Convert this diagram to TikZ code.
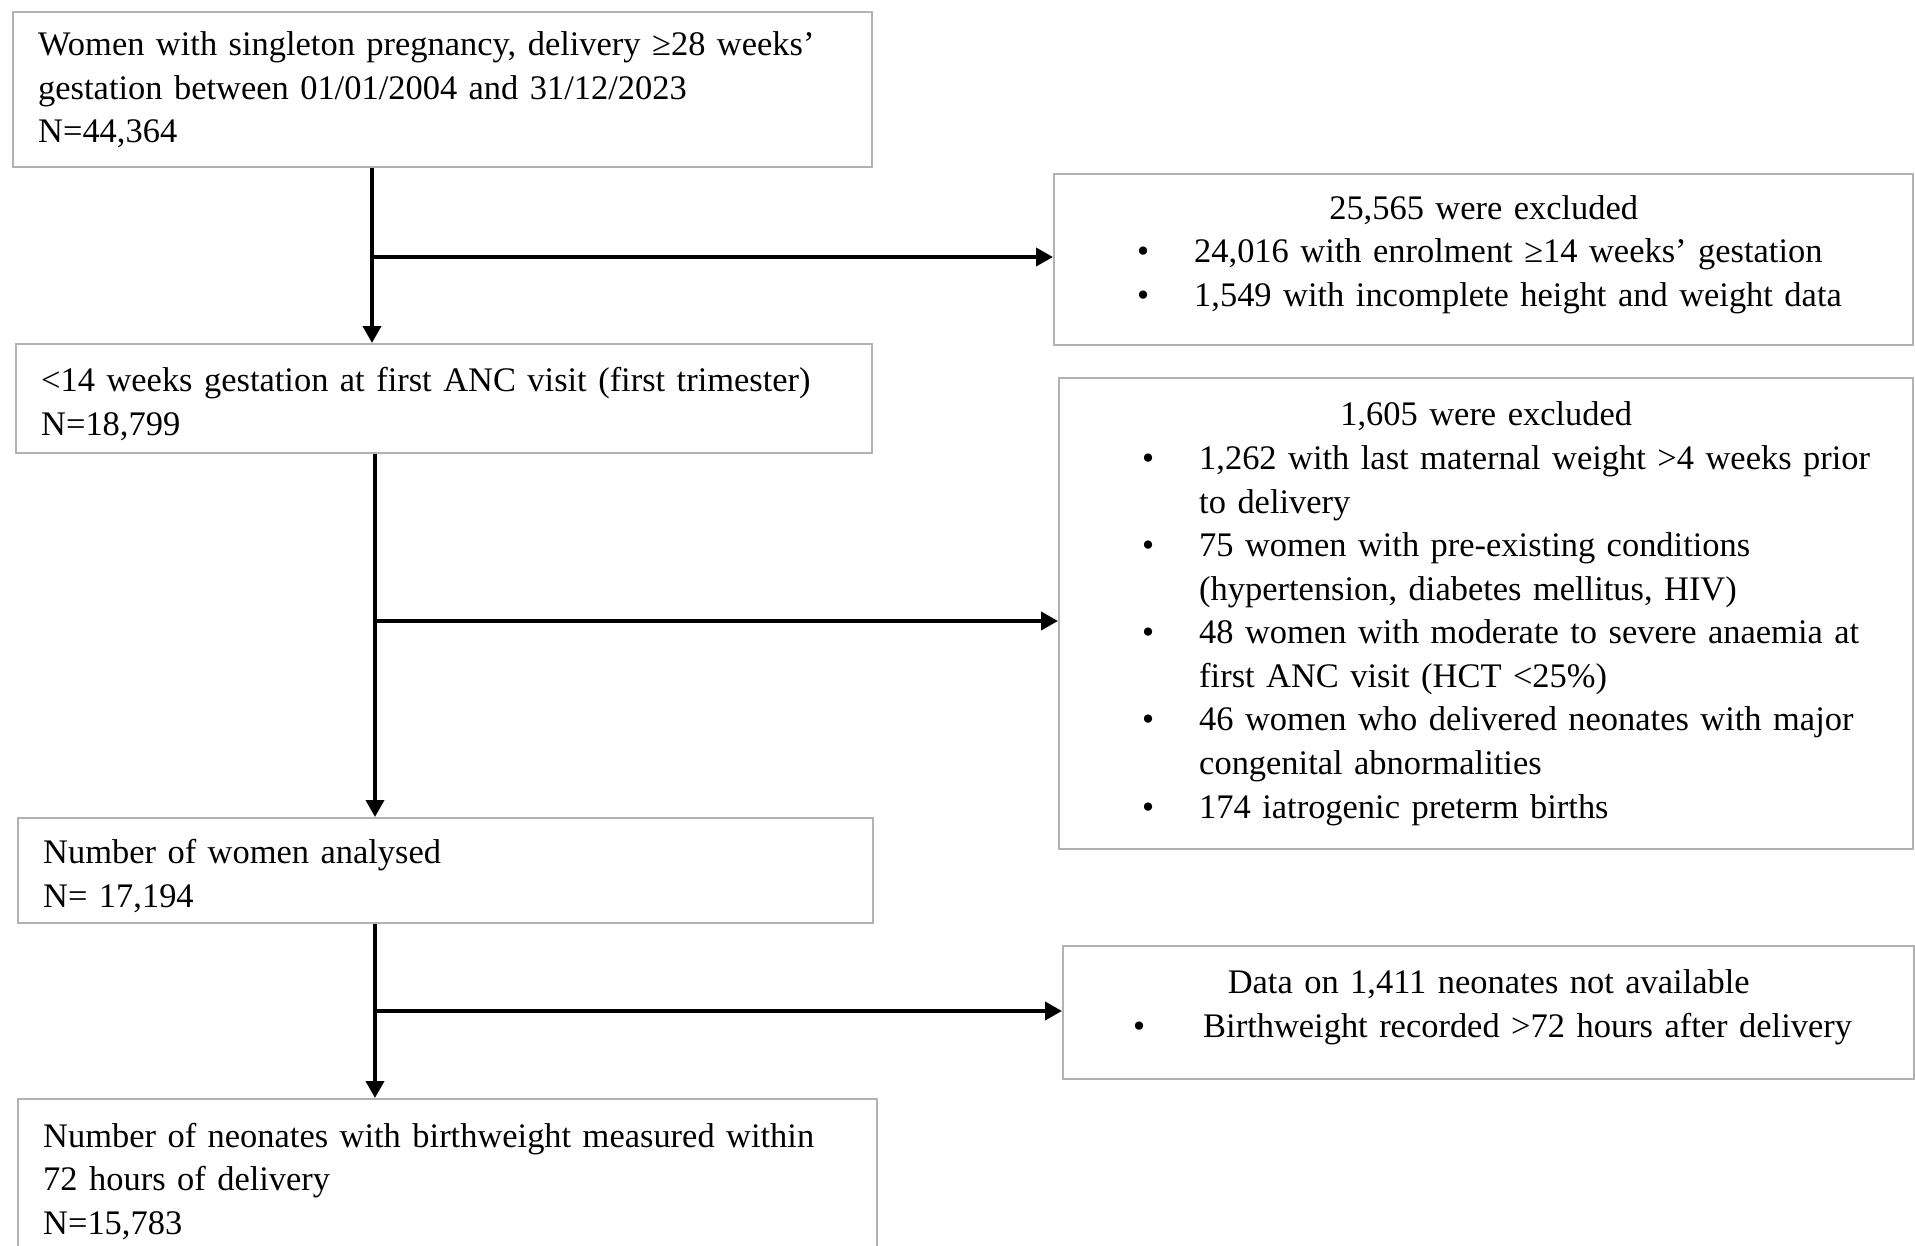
\documentclass[tikz,border=0pt]{standalone}
\usepackage{fontspec}
\setmainfont{Liberation Serif}
\usetikzlibrary{arrows.meta}
\setlength{\parindent}{0pt}

% bullet lines in the exclusion boxes
\newcommand{\bitem}[2][8.9mm]{\hspace*{#1}\makebox[0pt][c]{\textbullet}\hspace*{\dimexpr14mm-#1\relax}#2}
\newcommand{\bcont}[1]{\hspace*{14mm}#1}
\newcommand{\btitle}[1]{\makebox[\hsize][c]{#1}}

\tikzset{
  flowbox/.style={draw=gray!60, line width=0.7pt, anchor=north west, inner xsep=2.5mm,
    inner ysep=0pt, align=left, font=\fontsize{9.8}{12.4}\selectfont},
  exclbox/.style={flowbox, inner xsep=0pt},
  flow/.style={->, line width=1.1pt}
}

\begin{document}
\begin{tikzpicture}[x=0.1mm, y=-0.1mm, >={Triangle[length=1.7mm,width=1.8mm]}]
    \useasboundingbox (0,0) rectangle (1915,1246);
    \clip (0,0) rectangle (1915,1246);

    % Main flow (left column)
    \node[flowbox, text width=80.9mm, minimum height=15.5mm] (wom) at (12,11)
        {Women with singleton pregnancy, delivery ≥28 weeks’\\
         gestation between 01/01/2004 and 31/12/2023\\
         N=44,364};
    \node[flowbox, text width=80.6mm, minimum height=10.9mm, text height=10pt] (tri) at (15,343)
        {<14 weeks gestation at first ANC visit (first trimester)\\
         N=18,799};
    \node[flowbox, text width=80.5mm, minimum height=10.5mm, text height=10pt] (ana) at (17,817)
        {Number of women analysed\\
         N= 17,194};
    \node[flowbox, text width=80.9mm, minimum height=15.5mm, text height=9.4pt] (neo) at (17,1098)
        {Number of neonates with birthweight measured within\\
         72 hours of delivery\\
         N=15,783};

    % Exclusions (right column)
    \node[exclbox, text width=85.9mm, minimum height=17.1mm, text height=3.8pt] (exa) at (1053,173)
        {\btitle{25,565 were excluded}\\
         \bitem{24,016 with enrolment ≥14 weeks’ gestation}\\
         \bitem{1,549 with incomplete height and weight data}};
    \node[exclbox, text width=85.4mm, minimum height=47.1mm] (exb) at (1058,377)
        {\btitle{1,605 were excluded}\\
         \bitem{1,262 with last maternal weight >4 weeks prior}\\
         \bcont{to delivery}\\
         \bitem{75 women with pre-existing conditions}\\
         \bcont{(hypertension, diabetes mellitus, HIV)}\\
         \bitem{48 women with moderate to severe anaemia at}\\
         \bcont{first ANC visit (HCT <25\%)}\\
         \bitem{46 women who delivered neonates with major}\\
         \bcont{congenital abnormalities}\\
         \bitem{174 iatrogenic preterm births}};
    \node[exclbox, text width=85.1mm, minimum height=13.3mm, text height=3.8pt] (exc) at (1062,945)
        {\btitle{Data on 1,411 neonates not available}\\
         \bitem[7.6mm]{Birthweight recorded >72 hours after delivery}};

    % Branch points on the trunk
    \coordinate (t1) at (372,257);
    \coordinate (t2) at (375,621);
    \coordinate (t3) at (375,1011);

    % Arrows
    \draw[flow] (wom.south -| t1) -- (tri.north -| t1);
    \draw[flow] (t1) -- (t1 -| exa.west);
    \draw[flow] (tri.south -| t2) -- (ana.north -| t2);
    \draw[flow] (t2) -- (t2 -| exb.west);
    \draw[flow] (ana.south -| t3) -- (neo.north -| t3);
    \draw[flow] (t3) -- (t3 -| exc.west);
\end{tikzpicture}
\end{document}
